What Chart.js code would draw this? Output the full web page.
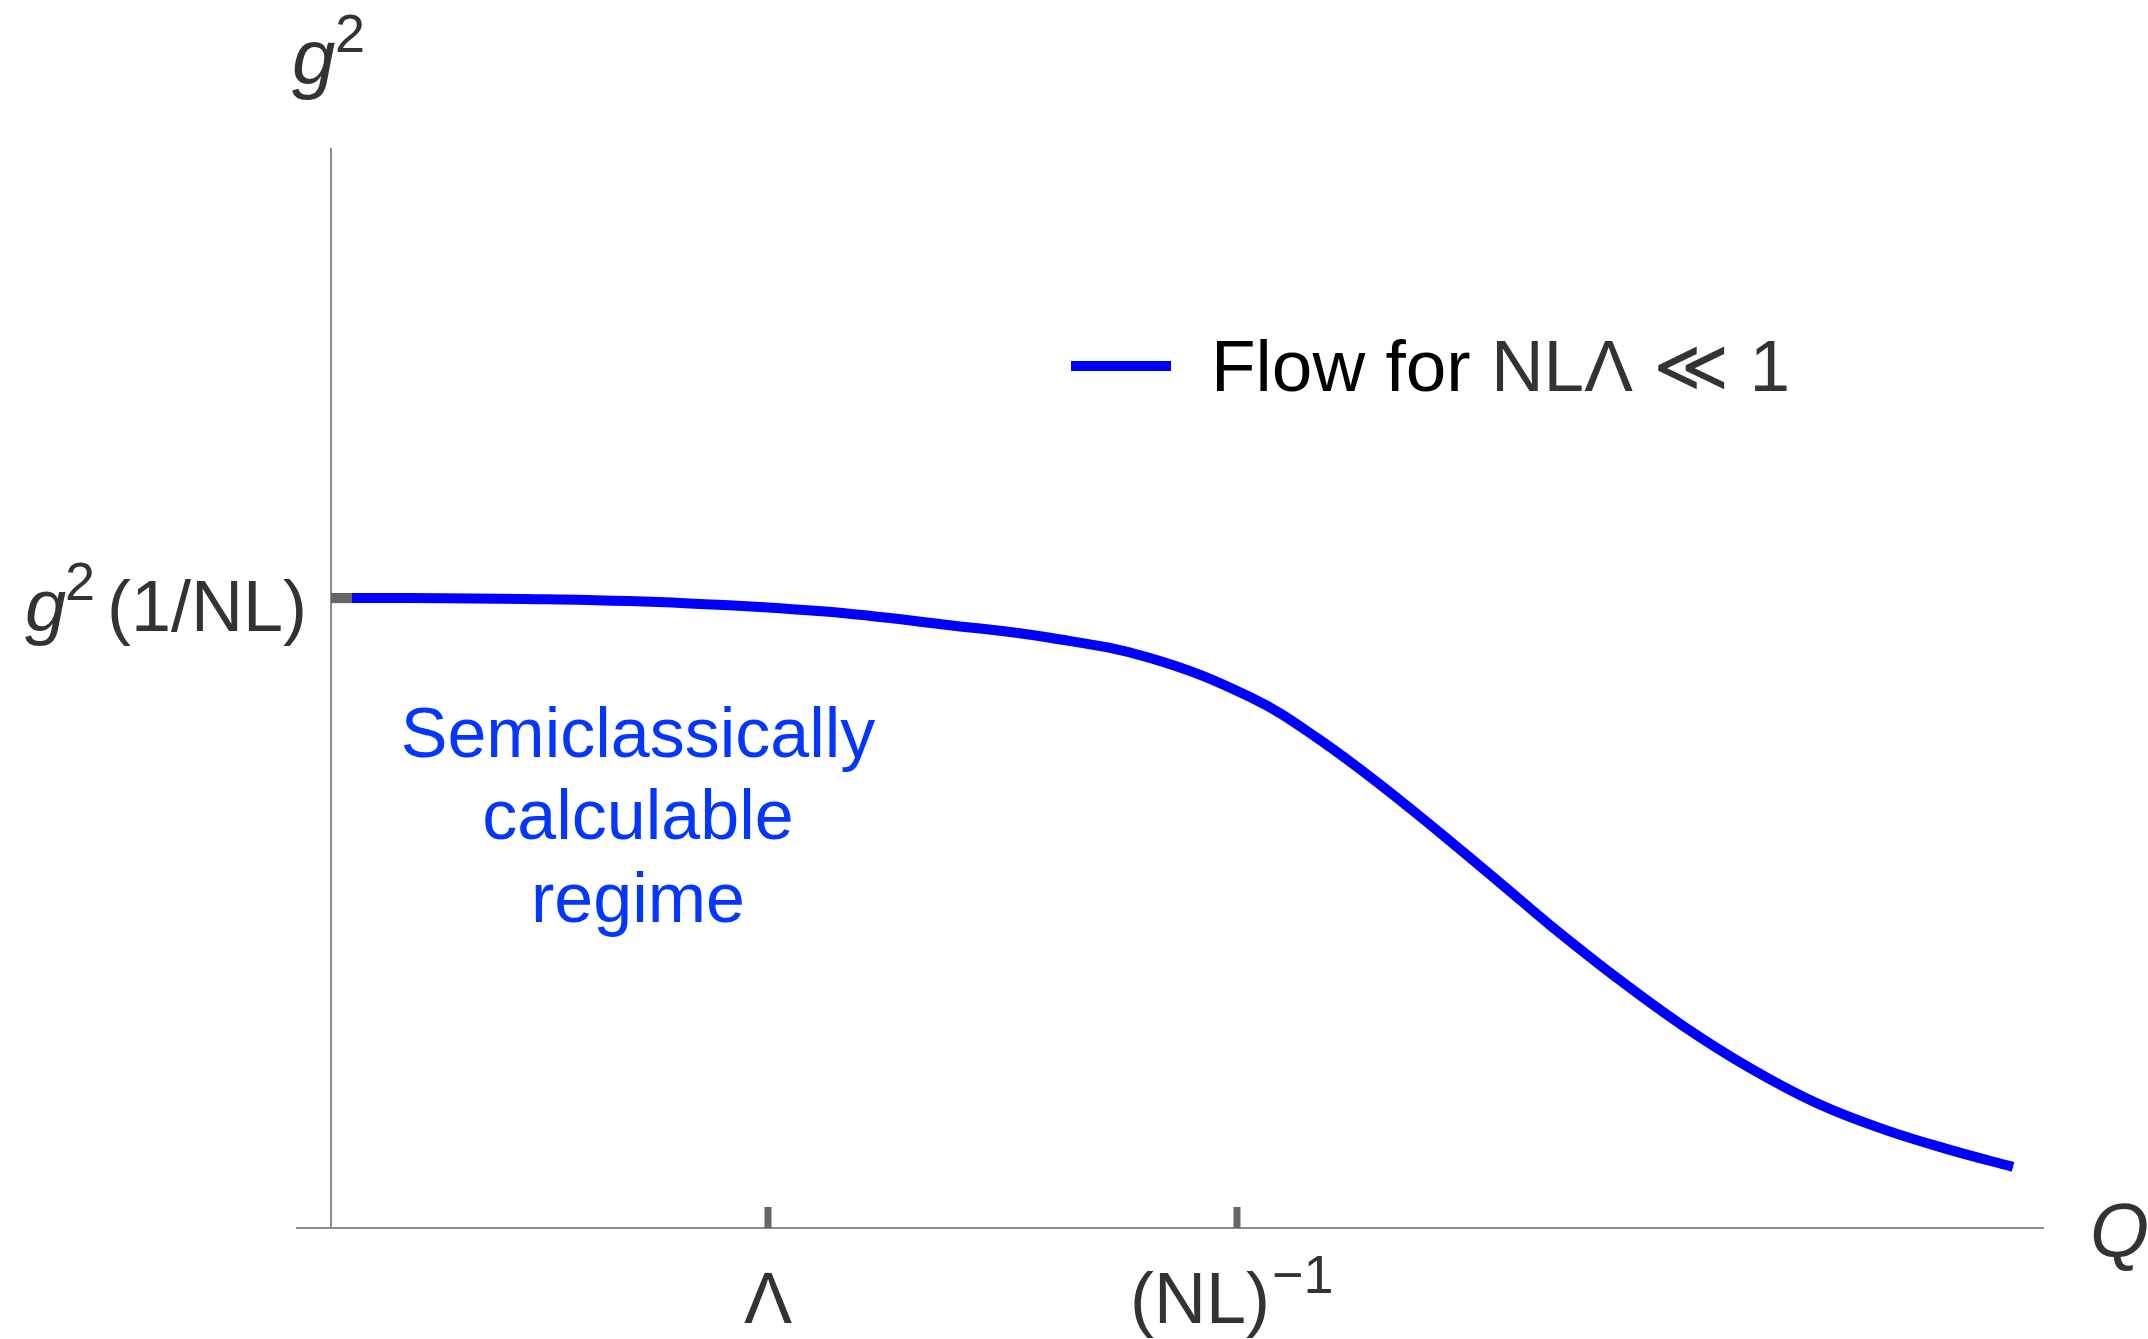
<!DOCTYPE html>
<html>
<head>
<meta charset="utf-8">
<script src="https://cdn.jsdelivr.net/npm/chart.js@4"></script>
<style>
body { margin: 0; background: #fff; }
</style>
</head>
<body>
<canvas id="myChart" width="2148" height="1339"></canvas>
<script>
// curve (Q in arbitrary units, g^2 relative to g^2(1/NL))
var q_vals = [0, 0.80, 2.17, 3.54, 4.91, 6.19, 7.19, 8.19, 9.19, 9.86, 10.69, 11.69, 12.19, 12.86, 13.52, 14.19, 14.86, 15.52, 16.19, 16.82];
var g2_vals = [1.000, 1.000, 0.998, 0.992, 0.979, 0.957, 0.937, 0.905, 0.843, 0.778, 0.679, 0.548, 0.481, 0.397, 0.321, 0.254, 0.198, 0.157, 0.124, 0.097];

var x_ticks = [4.37, 9.06];          // Λ , (NL)^-1
var y_ticks = [1];                   // g^2(1/NL)
var serie_label = 'Flow for NLΛ ≪ 1';

var puntos = [];
for (var i = 0; i < q_vals.length; i++) {
    puntos.push({x: q_vals[i], y: g2_vals[i]});
}

var FONT = '"Liberation Sans", Arial, Helvetica, sans-serif';

function texto(ctx, s, x, y, size, color, italic, align)
{
    ctx.font = (italic ? 'italic ' : '') + size + 'px ' + FONT;
    ctx.fillStyle = color;
    ctx.textAlign = align || 'left';
    ctx.textBaseline = 'alphabetic';
    ctx.fillText(s, x, y);
    return ctx.measureText(s).width;
}

var dibujos = {
    id: 'dibujos',
    afterDatasetsDraw: function(chart) {
        var ctx = chart.ctx;
        var xs = chart.scales.x;
        var ys = chart.scales.y;
        var x0 = xs.getPixelForValue(0);
        var base = chart.chartArea.bottom;
        ctx.save();

        // tick marks on the x axis
        ctx.fillStyle = '#666666';
        for (var i = 0; i < x_ticks.length; i++) {
            var px = xs.getPixelForValue(x_ticks[i]);
            ctx.fillRect(px - 3.5, base - 21, 7, 21);
        }
        // tick mark on the y axis
        for (var j = 0; j < y_ticks.length; j++) {
            var py = ys.getPixelForValue(y_ticks[j]);
            ctx.fillRect(x0, py - 5, 21, 10);
        }

        // x tick labels
        var pl = xs.getPixelForValue(x_ticks[0]);
        texto(ctx, 'Λ', pl, 1323, 72, '#333333', false, 'center');
        var pn = xs.getPixelForValue(x_ticks[1]);
        var w = texto(ctx, '(NL)', pn - 107, 1323, 72, '#333333', false);
        texto(ctx, '−1', pn - 107 + w + 2, 1293, 54, '#333333', false);

        // y tick label
        var py1 = ys.getPixelForValue(y_ticks[0]);
        texto(ctx, 'g', 25, py1 + 33, 74, '#333333', true);
        texto(ctx, '2', 65, py1 + 2, 54, '#333333', false);
        texto(ctx, '(1/NL)', 107, py1 + 33, 72, '#333333', false);

        // axis names
        texto(ctx, 'g', 292, 84, 78, '#333333', true);
        texto(ctx, '2', 335, 52, 54, '#333333', false);
        texto(ctx, 'Q', 2090, 1257, 76, '#333333', true);

        // legend
        ctx.fillStyle = '#0000ff';
        ctx.fillRect(1071, 361, 100, 10);
        var wf = texto(ctx, 'Flow for ', 1211, 391, 73, '#000000', false);
        texto(ctx, serie_label.replace('Flow for ', ''), 1211 + wf, 391, 73, '#333333', false);

        // annotation
        var cx = 638;
        texto(ctx, 'Semiclassically', cx, 757, 70, '#0536ff', false, 'center');
        texto(ctx, 'calculable', cx, 839, 70, '#0536ff', false, 'center');
        texto(ctx, 'regime', cx, 922, 70, '#0536ff', false, 'center');

        ctx.restore();
    }
};

var ctx = document.getElementById('myChart').getContext('2d');
var myChart = new Chart(ctx, {
    type: 'line',
    data: {
        datasets: [{
            label: serie_label,
            data: puntos,
            borderColor: '#0000ff',
            backgroundColor: '#0000ff',
            borderWidth: 10,
            pointRadius: 0,
            tension: 0.4,
            fill: false
        }]
    },
    options: {
        responsive: false,
        animation: false,
        devicePixelRatio: 1,
        layout: { padding: { left: 297, right: 105, top: 149, bottom: 111 } },
        plugins: {
            legend: { display: false },
            tooltip: { enabled: false }
        },
        scales: {
            x: {
                type: 'linear',
                min: -0.34,
                max: 17.12,
                ticks: { display: false },
                grid: { display: true, drawOnChartArea: false, drawTicks: false },
                border: { display: true, color: '#8c8c8c', width: 2 }
            },
            y: {
                type: 'linear',
                position: { x: 0 },
                min: 0,
                max: 1.713,
                ticks: { display: false },
                grid: { display: true, drawOnChartArea: false, drawTicks: false },
                border: { display: true, color: '#8c8c8c', width: 2 }
            }
        }
    },
    plugins: [dibujos]
});
</script>
</body>
</html>
